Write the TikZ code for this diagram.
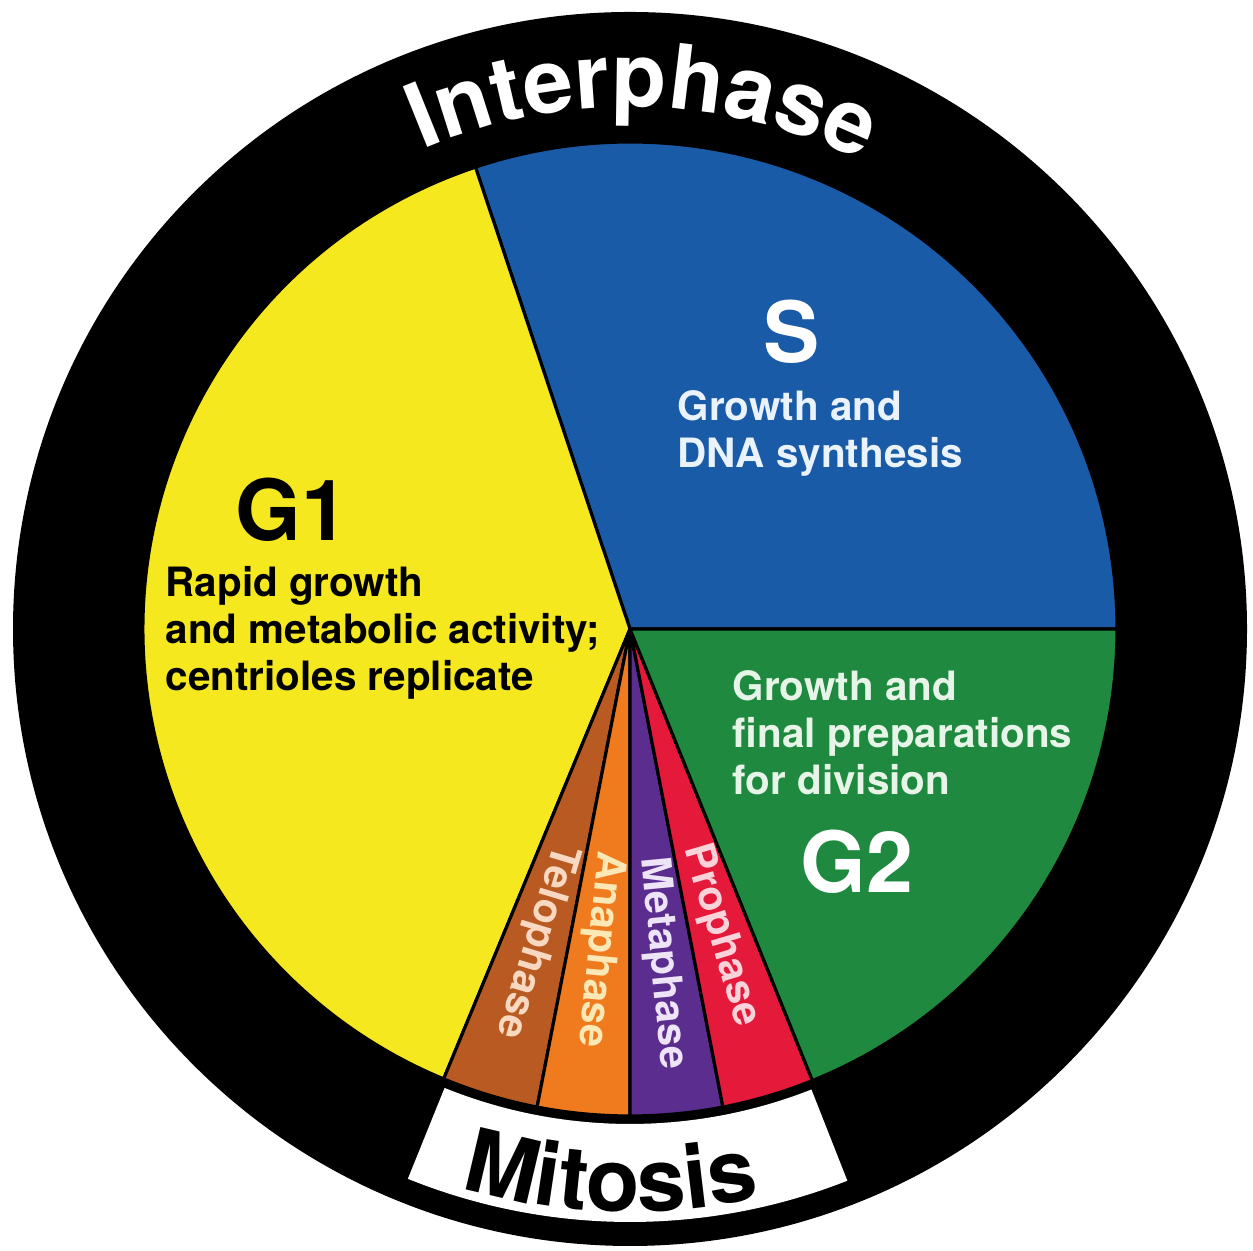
\documentclass[tikz,border=0pt]{standalone}
\usepackage{fontspec}
\setmainfont{TeX Gyre Heros}
\usetikzlibrary{calc,decorations.text}
\definecolor{gonefill}{HTML}{F5E81E}
\definecolor{sfill}{HTML}{1A5BA8}
\definecolor{gtwofill}{HTML}{1F8A3F}
\definecolor{profill}{HTML}{E5193A}
\definecolor{metafill}{HTML}{5A2D8F}
\definecolor{anafill}{HTML}{F07B1F}
\definecolor{telofill}{HTML}{B85A22}
\definecolor{stext}{HTML}{EAF3FB}
\definecolor{gtwotext}{HTML}{E6F5E8}
\definecolor{protext}{HTML}{F9D2DA}
\definecolor{metatext}{HTML}{EEE4F8}
\definecolor{anatext}{HTML}{FBE8B5}
\definecolor{telotext}{HTML}{F8D8C0}
\begin{document}
\begin{tikzpicture}[
  sector/.style={draw=black, line width=0.9pt, line join=round},
  body/.style={
    font=\bfseries\fontsize{11.5}{13.4}\selectfont,
    align=left,
    inner sep=0pt,
    anchor=north west
  },
  big/.style={font=\bfseries\fontsize{24}{24}\selectfont, inner sep=0pt},
  spoke/.style={font=\bfseries\fontsize{11.7}{13.4}\selectfont, inner sep=0pt}
]
\useasboundingbox (0,0) rectangle (12.53,12.51);
\coordinate (O) at (6.30,6.22);

\fill[black] (O) circle[radius=6.17];
\fill[white] ($(O)+(-112:4.95)$) arc[start angle=-112, end angle=-68.5, radius=4.95]
  -- ($(O)+(-68.5:5.93)$) arc[start angle=-68.5, end angle=-112, radius=5.93] -- cycle;

\filldraw[sector, fill=sfill] (O) -- ++(0:4.87) arc[start angle=0, end angle=108.5, radius=4.87] -- cycle;
\filldraw[sector, fill=gonefill] (O) -- ++(108.5:4.87) arc[start angle=108.5, end angle=247.5, radius=4.87] -- cycle;
\filldraw[sector, fill=telofill] (O) -- ++(247.5:4.87) arc[start angle=247.5, end angle=259, radius=4.87] -- cycle;
\filldraw[sector, fill=anafill] (O) -- ++(259:4.87) arc[start angle=259, end angle=270, radius=4.87] -- cycle;
\filldraw[sector, fill=metafill] (O) -- ++(270:4.87) arc[start angle=270, end angle=281, radius=4.87] -- cycle;
\filldraw[sector, fill=profill] (O) -- ++(281:4.87) arc[start angle=281, end angle=292, radius=4.87] -- cycle;
\filldraw[sector, fill=gtwofill] (O) -- ++(292:4.87) arc[start angle=292, end angle=360, radius=4.87] -- cycle;

\node[big, text=white] (s) at (7.92,9.19) {S};
\node[body, text=stext] (sdesc) at (6.77,8.61) {Growth and\\DNA synthesis};
\node[big] (gone) at (2.92,7.41) {G1};
\node[body] (gonedesc) at (1.65,6.85) {Rapid growth\\and metabolic activity;\\centrioles replicate};
\node[body, text=gtwotext] (gtwodesc) at (7.32,5.81) {Growth and\\final preparations\\for division};
\node[big, text=white] (gtwo) at (8.57,3.89) {G2};

\node[spoke, text=telotext, rotate=-106.75] (telo) at ($(O)+(-106.75:3.26)$) {Telophase};
\node[spoke, text=anatext, rotate=-95.5] (ana) at ($(O)+(-95.5:3.22)$) {Anaphase};
\node[spoke, text=metatext, rotate=-84.5] (meta) at ($(O)+(-84.5:3.36)$) {Metaphase};
\node[spoke, text=protext, rotate=-73.5] (pro) at ($(O)+(-73.5:3.20)$) {Prophase};

\path[decorate, decoration={text along path, text align=center,
  text={|\bfseries\fontsize{25.5}{25.5}\selectfont\color{white}|Interphase}}]
  ($(O)+(149:5.22)$) arc[start angle=149, end angle=28, radius=5.22];
\path[decorate, decoration={text along path, text align=center,
  text={|\bfseries\fontsize{25}{25}\selectfont\color{black}|Mitosis}}]
  ($(O)+(-130:5.83)$) arc[start angle=-130, end angle=-54, radius=5.83];
\end{tikzpicture}
\end{document}
